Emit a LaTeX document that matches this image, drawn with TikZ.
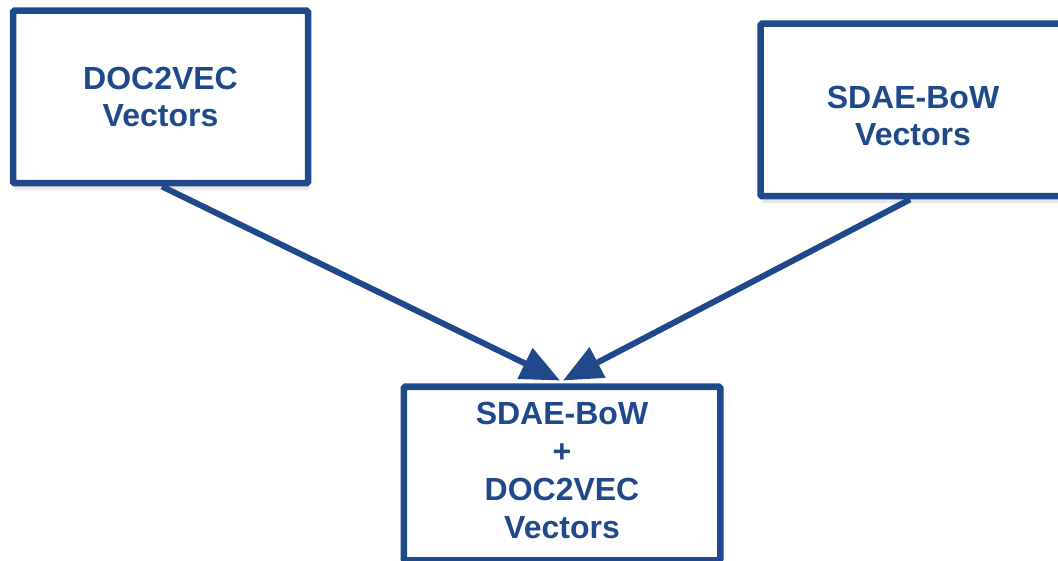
\documentclass[tikz,border=0pt]{standalone}
\usepackage{fontspec}
\setmainfont{Liberation Sans}
\usetikzlibrary{arrows.meta,calc,shadows}
\definecolor{dblue}{RGB}{31,73,139}
\begin{document}
\begin{tikzpicture}[x=1pt,y=-1pt,
  vbox/.style={draw=dblue, line width=6.5pt, fill=white, rounded corners=1.5pt,
    align=center, text=dblue, font=\fontsize{32}{37}\selectfont\bfseries,
    inner sep=0pt, drop shadow={opacity=0.18, shadow xshift=1.5pt, shadow yshift=-7pt}},
  varrow/.style={draw=dblue, line width=6pt, -{Triangle[length=39pt,width=33pt]}}]
\useasboundingbox (0,0) rectangle (1058,561);
\clip (0,0) rectangle (1058,561);
\node[vbox, minimum width=295pt, minimum height=172.5pt] (b1) at (160.5,97) {DOC2VEC\\Vectors};
\node[vbox, minimum width=305pt, minimum height=172.5pt] (b2) at (913,110) {\rule{0pt}{34.5pt}SDAE-BoW\\Vectors};
\node[vbox, minimum width=316.5pt, minimum height=173.5pt, font=\fontsize{32}{38}\selectfont\bfseries] (b3) at (562,473.5) {SDAE-BoW\\+\\DOC2VEC\\Vectors\rule[-6pt]{0pt}{0pt}};
\draw[varrow] ($(b1.south)+(1.5,0)$) -- ($(b3.north)+(-2,-3)$);
\draw[varrow] ($(b2.south)+(-3,0)$) -- ($(b3.north)+(1,-3)$);
\end{tikzpicture}
\end{document}
